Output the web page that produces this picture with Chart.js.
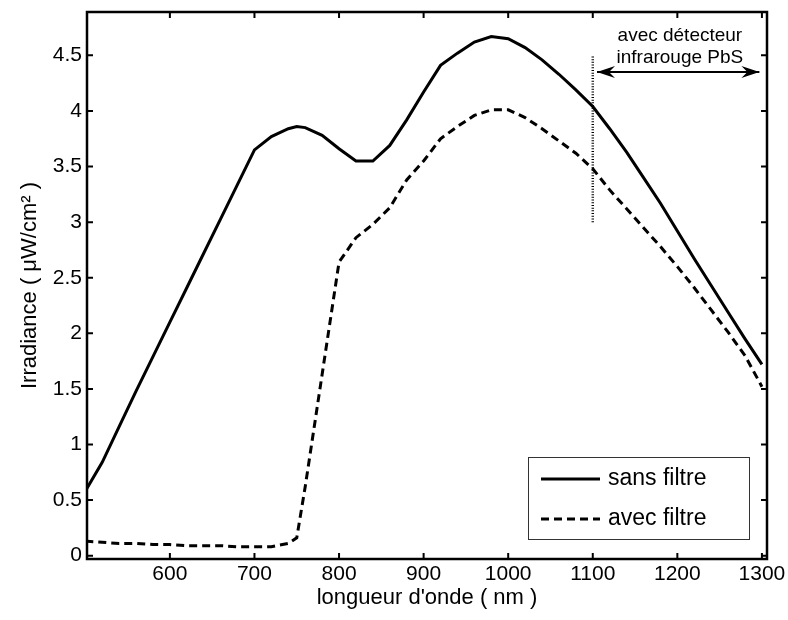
<!DOCTYPE html>
<html>
<head>
<meta charset="utf-8">
<script src="https://cdn.jsdelivr.net/npm/chart.js@4.4.1/dist/chart.umd.min.js"></script>
<style>
  html, body { margin: 0; padding: 0; background: #fff; }
  #wrap { width: 788px; height: 620px; }
</style>
</head>
<body>
<div id="wrap"><canvas id="c" width="788" height="620"></canvas></div>
<script>
// ---- data ----
const sansFiltreX = [500, 520, 540, 560, 580, 600, 620, 640, 660, 680, 700, 720, 740, 750, 760, 780, 800, 820, 840, 860, 880, 900, 920, 940, 960, 980, 1000, 1020, 1040, 1060, 1080, 1100, 1120, 1140, 1160, 1180, 1200, 1220, 1240, 1260, 1280, 1300];
const sansFiltreY = [0.58, 0.84, 1.16, 1.48, 1.79, 2.10, 2.41, 2.72, 3.03, 3.34, 3.65, 3.77, 3.84, 3.86, 3.85, 3.78, 3.66, 3.55, 3.55, 3.69, 3.92, 4.17, 4.41, 4.52, 4.62, 4.67, 4.65, 4.57, 4.46, 4.33, 4.19, 4.04, 3.84, 3.63, 3.40, 3.17, 2.92, 2.67, 2.43, 2.19, 1.95, 1.72];
const avecFiltreX = [500, 520, 540, 560, 580, 600, 620, 640, 660, 680, 700, 720, 740, 750, 760, 780, 800, 820, 840, 860, 880, 900, 920, 940, 960, 980, 1000, 1020, 1040, 1060, 1080, 1100, 1120, 1140, 1160, 1180, 1200, 1220, 1240, 1260, 1280, 1300];
const avecFiltreY = [0.13, 0.12, 0.11, 0.11, 0.10, 0.10, 0.09, 0.09, 0.09, 0.08, 0.08, 0.08, 0.11, 0.16, 0.62, 1.63, 2.64, 2.86, 2.98, 3.13, 3.38, 3.55, 3.75, 3.86, 3.96, 4.01, 4.01, 3.94, 3.84, 3.73, 3.62, 3.48, 3.29, 3.12, 2.95, 2.78, 2.60, 2.41, 2.21, 2.01, 1.80, 1.52];
const seriesLabels = ['sans filtre', 'avec filtre'];
const xTicks = [600, 700, 800, 900, 1000, 1100, 1200, 1300];
const yTicks = [0, 0.5, 1, 1.5, 2, 2.5, 3, 3.5, 4, 4.5];
const xTitle = "longueur d'onde ( nm )";
const yTitle = 'Irradiance ( μW/cm² )';
// detector marker (vertical dotted line) and arrow range
const detectorX = [1100, 1100];
const detectorY = [3, 4.5];
const arrowX = [1105, 1297];
const arrowY = [4.35, 4.35];
const noteLines = ['avec détecteur', 'infrarouge PbS'];
const noteX = 1203;
const noteY = [4.68, 4.48];

const FONT = '"Liberation Sans", Arial, Helvetica, sans-serif';
Chart.defaults.font.family = FONT;
Chart.defaults.color = '#000';

const zip = (xs, ys) => xs.map((x, i) => ({x, y: ys[i]}));

const framePlugin = {
  id: 'frame',
  afterDatasetsDraw(chart) {
    const ctx = chart.ctx;
    const {left, right, top, bottom} = chart.chartArea;
    const xs = chart.scales.x, ys = chart.scales.y;
    ctx.save();
    // arrow heads
    const ay = ys.getPixelForValue(arrowY[0]);
    const ax0 = xs.getPixelForValue(arrowX[0]);
    const ax1 = xs.getPixelForValue(arrowX[1]);
    ctx.fillStyle = '#000';
    const head = (tip, dir) => {
      ctx.beginPath();
      ctx.moveTo(tip, ay);
      ctx.lineTo(tip + dir * 18, ay - 6);
      ctx.lineTo(tip + dir * 12, ay);
      ctx.lineTo(tip + dir * 18, ay + 6);
      ctx.closePath();
      ctx.fill();
    };
    head(ax0, 1);
    head(ax1, -1);
    // annotation text
    ctx.font = '19px ' + FONT;
    ctx.textAlign = 'center';
    ctx.textBaseline = 'middle';
    noteLines.forEach((t, i) => {
      ctx.fillText(t, xs.getPixelForValue(noteX), ys.getPixelForValue(noteY[i]));
    });
    // legend box
    const lx = left + 441, ly = top + 445, lw = 221, lh = 82;
    ctx.fillStyle = '#fff';
    ctx.fillRect(lx, ly, lw, lh);
    ctx.strokeStyle = '#333';
    ctx.lineWidth = 1;
    ctx.strokeRect(lx + 0.5, ly + 0.5, lw, lh);
    ctx.font = '23px ' + FONT;
    ctx.textAlign = 'left';
    ctx.fillStyle = '#000';
    chart.data.datasets.slice(0, 2).forEach((ds, i) => {
      const yy = ly + 22 + i * 40;
      ctx.beginPath();
      ctx.strokeStyle = '#000';
      ctx.lineWidth = ds.borderWidth;
      ctx.setLineDash(ds.borderDash || []);
      ctx.moveTo(lx + 13, yy);
      ctx.lineTo(lx + 72, yy);
      ctx.stroke();
      ctx.setLineDash([]);
      ctx.fillText(ds.label, lx + 80, yy);
    });
    // axes box
    ctx.strokeStyle = '#000';
    ctx.lineWidth = 2.5;
    ctx.strokeRect(left, top, right - left, bottom - top);
    // inward ticks
    ctx.lineWidth = 2;
    ctx.beginPath();
    xTicks.forEach(v => {
      const px = xs.getPixelForValue(v);
      ctx.moveTo(px, bottom); ctx.lineTo(px, bottom - 6);
      ctx.moveTo(px, top); ctx.lineTo(px, top + 6);
    });
    yTicks.forEach(v => {
      const py = ys.getPixelForValue(v);
      ctx.moveTo(left, py); ctx.lineTo(left + 6, py);
      ctx.moveTo(right, py); ctx.lineTo(right - 6, py);
    });
    ctx.stroke();
    ctx.restore();
  }
};

new Chart(document.getElementById('c'), {
  type: 'line',
  data: {
    datasets: [
      { label: seriesLabels[0], data: zip(sansFiltreX, sansFiltreY), borderColor: '#000', borderWidth: 3, pointRadius: 0, tension: 0, fill: false },
      { label: seriesLabels[1], data: zip(avecFiltreX, avecFiltreY), borderColor: '#000', borderWidth: 3, borderDash: [8, 5], pointRadius: 0, tension: 0, fill: false },
      { label: 'detecteur', data: zip(detectorX, detectorY), borderColor: '#000', borderWidth: 2.5, borderDash: [1, 1.7], pointRadius: 0, fill: false },
      { label: 'plage', data: zip(arrowX, arrowY), borderColor: '#000', borderWidth: 2, pointRadius: 0, fill: false }
    ]
  },
  options: {
    responsive: false,
    animation: false,
    devicePixelRatio: 1,
    layout: { padding: { top: 12, right: 21, left: 0, bottom: 0 } },
    plugins: { legend: { display: false }, tooltip: { enabled: false } },
    scales: {
      x: {
        type: 'linear', min: 502, max: 1306,
        grid: { display: false, drawTicks: false },
        border: { display: false },
        afterBuildTicks: s => { s.ticks = xTicks.map(v => ({value: v})); },
        afterFit: s => { s.height = 61; s.paddingLeft = 0; s.paddingRight = 0; s.paddingTop = 0; s.paddingBottom = 0; },
        ticks: { font: { size: 21 }, padding: 3, color: '#000', callback: v => String(v) },
        title: { display: true, text: xTitle, font: { size: 22 }, color: '#000', padding: { top: 0, bottom: 9 } }
      },
      y: {
        type: 'linear', min: -0.03, max: 4.89,
        grid: { display: false, drawTicks: false },
        border: { display: false },
        afterBuildTicks: s => { s.ticks = yTicks.map(v => ({value: v})); },
        afterFit: s => { s.width = 87; s.paddingLeft = 0; s.paddingRight = 0; s.paddingTop = 0; s.paddingBottom = 0; },
        ticks: { font: { size: 21 }, padding: 5, color: '#000', callback: v => String(v) },
        title: { display: true, text: yTitle, font: { size: 22 }, color: '#000', padding: { top: 17, bottom: 0 } }
      }
    }
  },
  plugins: [framePlugin]
});
</script>
</body>
</html>
